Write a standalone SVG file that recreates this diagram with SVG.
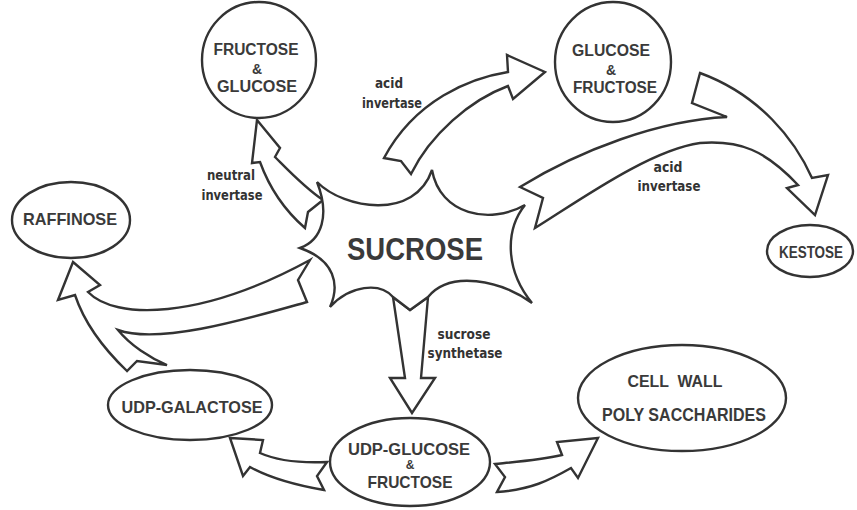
<svg xmlns="http://www.w3.org/2000/svg" width="857" height="510" viewBox="0 0 857 510">
<style>
.n{fill:#fff;stroke:#333;stroke-width:2.4}
.a{fill:#fff;stroke:#333;stroke-width:2.4;stroke-linejoin:miter}
.t{font-family:"Liberation Sans",Arial,sans-serif;font-weight:bold;fill:#3a3a3a;text-anchor:middle}
.e{font-family:"DejaVu Sans Condensed","Liberation Sans",sans-serif;font-weight:bold;fill:#333;text-anchor:middle;font-size:14px}
</style>
<rect width="857" height="510" fill="#fff"/>
<g id="connectors">
<path id="c-neutral" class="a" d="M257,120 L280,148 L275,157 C290,172 305,188 323,200 L308,212 L305,228 C290,215 272,195 260,162 L252,163 Z"/>
<path id="c-acid1" class="a" d="M545,72 L507,55 L508,72 C470,78 415,100 384,158 L401,161 L411,174 C430,135 470,100 508,86 L513,99 Z"/>
<path id="c-acid2" class="a" d="M520,187 L543,198 L535,228 C580,200 650,150 700,143 C740,140 765,150 798,185 L787,188 L815,215 L828,175 L812,178 C795,140 760,95 700,73 L692,103 L727,117 C660,120 580,150 520,187 Z"/>
<path id="c-raff" class="a" d="M73,262 L100,285 L88,292 C115,320 200,320 310,260 L298,280 L307,302 C250,318 160,345 118,330 C130,345 150,358 167,365 L137,361 L127,371 C105,350 85,325 75,295 L58,300 Z"/>
<path id="c-synth" class="a" d="M393,297 L410,310 L428,297 L421,378 L435,378 L412,413 L390,378 L405,378 Z"/>
<path id="c-gal" class="a" d="M230,438 L263,440 L260,453 C280,462 305,463 327,462 L317,476 L324,490 C295,485 270,478 250,467 L243,476 Z"/>
<path id="c-wall" class="a" d="M598,438 L557,442 L562,455 C540,460 515,462 495,464 L505,477 L497,492 C530,490 550,480 571,468 L578,478 Z"/>
<text class="e" x="389" y="88" textLength="28" lengthAdjust="spacingAndGlyphs">acid</text>
<text class="e" x="392" y="108" textLength="60" lengthAdjust="spacingAndGlyphs">invertase</text>
<text class="e" x="231" y="180" textLength="48" lengthAdjust="spacingAndGlyphs">neutral</text>
<text class="e" x="232" y="200" textLength="61" lengthAdjust="spacingAndGlyphs">invertase</text>
<text class="e" x="668" y="172" textLength="29" lengthAdjust="spacingAndGlyphs">acid</text>
<text class="e" x="669" y="191" textLength="63" lengthAdjust="spacingAndGlyphs">invertase</text>
<text class="e" x="464" y="339" textLength="53" lengthAdjust="spacingAndGlyphs">sucrose</text>
<text class="e" x="465" y="358" textLength="75" lengthAdjust="spacingAndGlyphs">synthetase</text>
</g>
<g id="sucrose">
<path class="n" d="M317,182 C345,210 415,220 432,170 C440,215 490,225 525,205 C505,230 505,270 532,303 C500,280 450,270 428,297 L410,310 L393,297 C380,282 350,285 330,307 C340,285 335,260 300,248 C322,240 330,215 317,182 Z"/>
<text class="t" x="415" y="260" font-size="31" textLength="136" lengthAdjust="spacingAndGlyphs">SUCROSE</text>
</g>
<g id="fructose-glucose">
<ellipse class="n" cx="259" cy="60" rx="57" ry="58"/>
<text class="t" x="256" y="55" font-size="16" textLength="85" lengthAdjust="spacingAndGlyphs">FRUCTOSE</text>
<text class="t" x="257" y="74" font-size="14">&amp;</text>
<text class="t" x="257" y="92" font-size="16" textLength="80" lengthAdjust="spacingAndGlyphs">GLUCOSE</text>
</g>
<g id="glucose-fructose">
<ellipse class="n" cx="613" cy="62" rx="58" ry="60"/>
<text class="t" x="611" y="56" font-size="16" textLength="78" lengthAdjust="spacingAndGlyphs">GLUCOSE</text>
<text class="t" x="611" y="75" font-size="14">&amp;</text>
<text class="t" x="615" y="93" font-size="16" textLength="84" lengthAdjust="spacingAndGlyphs">FRUCTOSE</text>
</g>
<g id="kestose">
<ellipse class="n" cx="810" cy="251" rx="43" ry="26"/>
<text class="t" x="811" y="258" font-size="16" textLength="64" lengthAdjust="spacingAndGlyphs">KESTOSE</text>
</g>
<g id="raffinose">
<ellipse class="n" cx="71" cy="220" rx="59" ry="38"/>
<text class="t" x="70" y="225" font-size="17" textLength="94" lengthAdjust="spacingAndGlyphs">RAFFINOSE</text>
</g>
<g id="udp-galactose">
<ellipse class="n" cx="190" cy="405" rx="82" ry="35"/>
<text class="t" x="192" y="413" font-size="17" textLength="141" lengthAdjust="spacingAndGlyphs">UDP-GALACTOSE</text>
</g>
<g id="udp-glucose">
<ellipse class="n" cx="410" cy="462" rx="80" ry="44"/>
<text class="t" x="409" y="455" font-size="16" textLength="122" lengthAdjust="spacingAndGlyphs">UDP-GLUCOSE</text>
<text class="t" x="410" y="469" font-size="12">&amp;</text>
<text class="t" x="410" y="488" font-size="17" textLength="85" lengthAdjust="spacingAndGlyphs">FRUCTOSE</text>
</g>
<g id="cell-wall">
<ellipse class="n" cx="682" cy="398" rx="104" ry="53"/>
<text class="t" x="675" y="387" font-size="16" textLength="95" lengthAdjust="spacingAndGlyphs" xml:space="preserve">CELL  WALL</text>
<text class="t" x="684" y="421" font-size="18" textLength="164" lengthAdjust="spacingAndGlyphs">POLY SACCHARIDES</text>
</g>
</svg>
